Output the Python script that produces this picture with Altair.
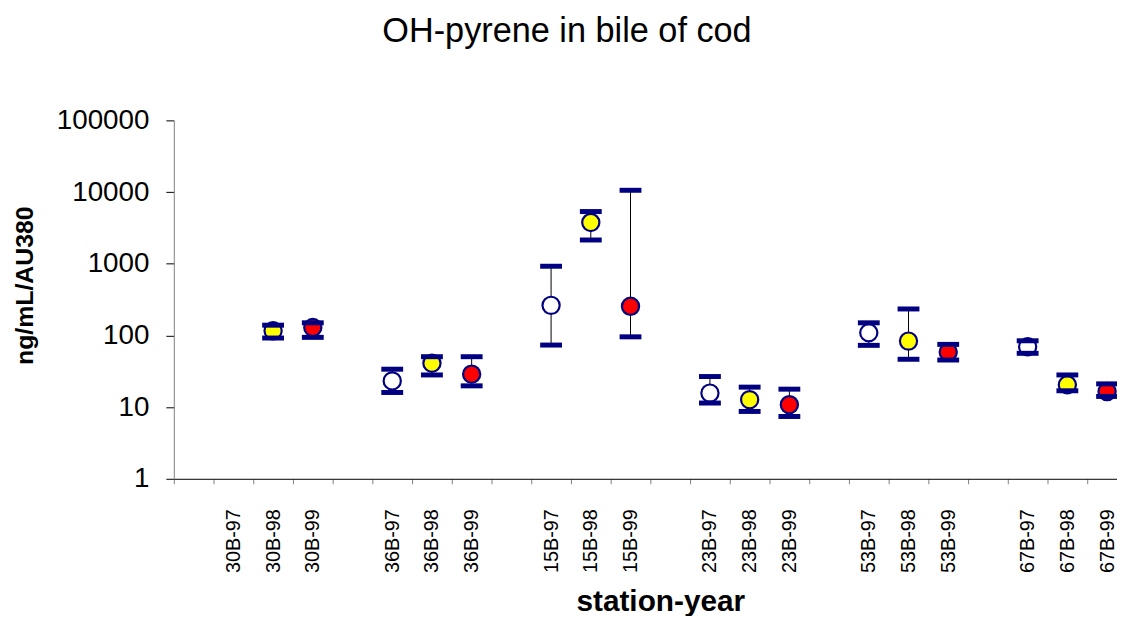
import altair as alt
import pandas as pd

stations = ["30B", "36B", "15B", "23B", "53B", "67B"]
years = ["97", "98", "99"]
year_fill = ["#FFFFFF", "#FFFF00", "#FF0000"]

# mean, upper and lower values per station (97, 98, 99); None = no data
mean_vals = {
    "30B": [None, 116, 129],
    "36B": [23.2, 40.9, 28.8],
    "15B": [263, 3765, 255],
    "23B": [15.7, 12.7, 10.8],
    "53B": [109, 83.4, 58.7],
    "67B": [69.5, 20.5, 16.5],
}
upper_vals = {
    "30B": [None, 139, 150],
    "36B": [33.8, 50.5, 50.5],
    "15B": [923, 5346, 10590],
    "23B": [26.7, 19.0, 17.8],
    "53B": [150, 234, 75],
    "67B": [84.2, 28.1, 21.1],
}
lower_vals = {
    "30B": [None, 92, 94],
    "36B": [16.0, 28.1, 19.8],
    "15B": [73.4, 2145, 95.6],
    "23B": [11.4, 8.7, 7.4],
    "53B": [72.7, 46.5, 45.4],
    "67B": [56.3, 16.9, 14.1],
}
y_ticks = [1, 10, 100, 1000, 10000, 100000]

# category slots: one empty slot before each station group
slot_labels = []
for s in stations:
    slot_labels.append("")
    for yv in years:
        slot_labels.append(f"{s}-{yv}")
n_slots = len(slot_labels)

rows = []
for gi, s in enumerate(stations):
    for yi, yv in enumerate(years):
        m = mean_vals[s][yi]
        if m is None:
            continue
        rows.append({
            "pos": gi * 4 + 1 + yi + 0.5,
            "label": f"{s}-{yv}",
            "year": yv,
            "mean": m,
            "hi": upper_vals[s][yi],
            "lo": lower_vals[s][yi],
        })
df = pd.DataFrame(rows)

label_centers = [i + 0.5 for i, l in enumerate(slot_labels) if l]
label_expr = "[" + ",".join("'" + l + "'" for l in slot_labels) + "][floor(datum.value)]"

FONT = "Liberation Sans"
xscale = alt.Scale(domain=[0, 23.75], nice=False, zero=False)
yscale = alt.Scale(type="log", domain=[1, 100000], nice=False)

yaxis = alt.Axis(
    values=y_ticks, format="d", grid=False, tickSize=8, tickColor="#000000",
    domainColor="#808080", labelFontSize=28, labelPadding=17, labelColor="#000000",
    labelFont=FONT, title="ng/mL/AU380", titleFont=FONT, titleFontSize=25,
    titleFontWeight="bold", titleColor="#000000", titleAngle=270,
    titleX=-142, titleY=166, titleBaseline="alphabetic", titleAlign="center",
)

x_tick_axis = alt.Axis(
    orient="bottom", values=list(range(n_slots)), labels=False, tickSize=5,
    tickColor="#808080", domainColor="#000000", grid=False, title=None,
)
x_label_axis = alt.Axis(
    orient="bottom", values=label_centers, labelExpr=label_expr, ticks=False,
    domain=False, grid=False, labelAngle=270, labelFontSize=20, labelFont=FONT,
    labelColor="#000000", labelPadding=30, labelOverlap=False,
    title="station-year", titleFont=FONT, titleFontSize=30, titleFontWeight="bold",
    titleColor="#000000", titleX=490, titleY=133, titleBaseline="alphabetic",
    titleAlign="center",
)

base = alt.Chart(df)

err_line = base.mark_rule(color="#000000", strokeWidth=1).encode(
    x=alt.X("pos:Q", scale=xscale, axis=x_tick_axis),
    y=alt.Y("lo:Q", scale=yscale, axis=yaxis),
    y2="hi:Q",
)

points = base.mark_point(shape="circle", filled=True, stroke="#000080",
                         strokeWidth=2.2, size=300, opacity=1).encode(
    x=alt.X("pos:Q", scale=xscale, axis=x_label_axis),
    y=alt.Y("mean:Q", scale=yscale, axis=yaxis),
    fill=alt.Fill("year:N", scale=alt.Scale(domain=years, range=year_fill), legend=None),
)

cap_hi = base.mark_tick(orient="horizontal", size=22, thickness=5,
                        color="#000080", opacity=1).encode(
    x=alt.X("pos:Q", scale=xscale, axis=None),
    y=alt.Y("hi:Q", scale=yscale, axis=yaxis),
)
cap_lo = base.mark_tick(orient="horizontal", size=22, thickness=5,
                        color="#000080", opacity=1).encode(
    x=alt.X("pos:Q", scale=xscale, axis=None),
    y=alt.Y("lo:Q", scale=yscale, axis=yaxis),
)

chart = alt.layer(err_line, points, cap_hi, cap_lo).resolve_axis(
    x="independent"
).properties(
    width=950, height=361,
    autosize=alt.AutoSizeParams(type="none"),
    padding={"left": 167, "top": 111, "right": 0, "bottom": 136},
    title=alt.Title("OH-pyrene in bile of cod", font=FONT, fontSize=34.5,
                    fontWeight="normal", color="#000000", anchor="middle",
                    dx=-79, offset=30, baseline="alphabetic"),
    background="#FFFFFF",
).configure_view(stroke=None)

chart.save("out.html", embed_options={"renderer": "svg", "actions": False})
